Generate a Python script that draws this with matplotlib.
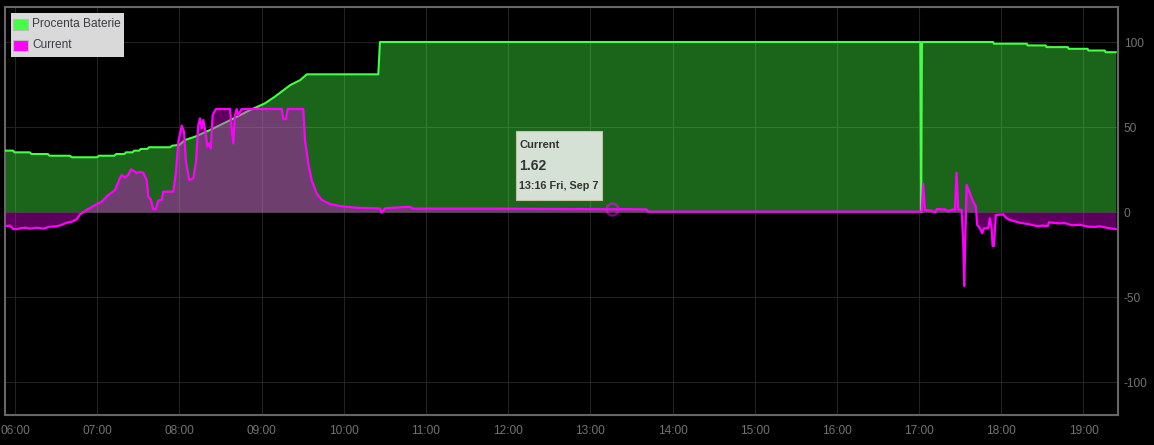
import matplotlib
matplotlib.use("Agg")
from matplotlib import pyplot as plt
from matplotlib.patches import Rectangle
import numpy as np

plt.rcParams['font.family'] = ['Liberation Sans', 'DejaVu Sans']
plt.rcParams['axes.unicode_minus'] = False

# battery percentage (time in decimal hours)
batt_hours = [5.878, 5.976, 5.995, 6.18, 6.20, 6.40, 6.42, 6.67, 6.69, 7.00,
              7.02, 7.21, 7.23, 7.33, 7.35, 7.43, 7.45, 7.51, 7.53, 7.61,
              7.63, 7.89, 7.91, 8.00, 8.07, 8.19, 8.37, 8.62, 8.86, 9.04,
              9.16, 9.35, 9.47, 9.55, 10.42, 10.44, 17.015, 17.025, 17.035, 17.90,
              17.91, 18.31, 18.32, 18.54, 18.55, 18.81, 18.82, 19.05, 19.06, 19.26,
              19.27, 19.392]
batt_values = [36.1, 36.1, 35.1, 35.1, 34.1, 34.1, 33.1, 33.1, 32.2, 32.2,
               33.1, 33.1, 34.1, 34.1, 35.1, 35.1, 36.1, 36.1, 37.1, 37.1,
               38.1, 38.1, 39.0, 39.5, 42.4, 44.3, 48.2, 54.1, 60.0, 63.9,
               67.8, 74.7, 77.6, 81.0, 81.0, 100, 100, 0, 100, 100,
               99, 99, 98, 98, 97, 97, 96, 96, 95, 95,
               94, 94]

# current
cur_hours = [5.878, 5.891, 5.939, 5.979, 6.021, 6.061, 6.122, 6.182, 6.264, 6.344,
             6.426, 6.507, 6.568, 6.629, 6.690, 6.751, 6.791, 6.872, 6.973, 7.055,
             7.135, 7.217, 7.269, 7.298, 7.338, 7.378, 7.411, 7.481, 7.521, 7.561,
             7.602, 7.622, 7.651, 7.682, 7.712, 7.743, 7.785, 7.804, 7.926, 7.959,
             7.987, 8.028, 8.056, 8.080, 8.120, 8.169, 8.202, 8.230, 8.251, 8.271,
             8.291, 8.324, 8.339, 8.364, 8.381, 8.405, 8.445, 8.616, 8.636, 8.656,
             8.676, 8.697, 8.716, 8.758, 9.245, 9.264, 9.297, 9.318, 9.507, 9.528,
             9.568, 9.609, 9.670, 9.731, 9.832, 9.954, 10.157, 10.400, 10.440, 10.461,
             10.501, 10.805, 10.842, 11.170, 11.779, 12.500, 13.117, 13.263, 13.450, 13.685,
             13.701, 17.031, 17.050, 17.071, 17.153, 17.192, 17.220, 17.314, 17.354, 17.415,
             17.436, 17.456, 17.476, 17.517, 17.537, 17.549, 17.561, 17.578, 17.618, 17.658,
             17.691, 17.707, 17.740, 17.768, 17.788, 17.841, 17.861, 17.882, 17.894, 17.910,
             17.934, 18.023, 18.060, 18.105, 18.226, 18.348, 18.430, 18.506, 18.567, 18.579,
             18.713, 18.774, 18.859, 18.956, 19.054, 19.139, 19.200, 19.319, 19.392]
cur_values = [-8.2, -8.2, -8.0, -10.0, -10.2, -9.6, -9.2, -9.8, -9.2, -9.8,
              -8.6, -8.4, -7.6, -6.3, -5.7, -4.3, -1.4, 1.2, 4.1, 6.1,
              10.0, 12.9, 19.2, 21.8, 20.4, 21.8, 25.1, 23.1, 23.5, 23.1,
              18.8, 9.0, 7.5, 1.6, 1.6, 6.7, 7.2, 12.0, 12.0, 23.7,
              41.4, 50.8, 47.3, 29.6, 18.8, 19.8, 29.6, 51.2, 55.1, 49.2,
              54.1, 45.3, 38.4, 40.4, 37.5, 57.1, 60.6, 60.6, 49.2, 40.4,
              57.0, 60.6, 57.0, 60.6, 60.6, 54.7, 54.7, 60.6, 60.6, 42.4,
              28.6, 18.8, 11.0, 7.1, 4.7, 3.5, 2.5, 2.2, 2.0, -0.4,
              2.2, 3.1, 2.0, 2.0, 2.0, 1.8, 1.6, 1.62, 1.7, 1.5,
              0.2, 0.2, 16.5, 1.2, 0.8, -0.2, 1.8, 1.5, 0.6, 1.5,
              1.0, 23.1, 1.5, 1.2, -18.4, -43.5, -18.4, 15.9, 11.0, 6.1,
              3.1, -7.6, -9.6, -12.5, -9.6, -9.6, -3.7, -9.6, -20.0, -20.0,
              -1.8, -1.4, -3.5, -4.7, -6.3, -7.3, -8.2, -8.0, -8.2, -6.1,
              -6.7, -6.5, -7.8, -7.5, -8.6, -8.8, -8.4, -9.6, -10.0]

hour_ticks = list(range(6, 20))
hour_labels = ["%02d:00" % h for h in hour_ticks]
y_ticks = [-100, -50, 0, 50, 100]

tip_hour = 13.263
tip_value = 1.62
tip_series = "Current"
tip_date = "13:16 Fri, Sep 7"

GREEN = "#44ff44"
MAGENTA = "#ff00ff"

W, H = 1154, 445
def fx(px):
    return px / W
def fy(py):
    return 1 - py / H

fig = plt.figure(figsize=(W / 100, H / 100), dpi=100, facecolor="black")
ax = fig.add_axes([fx(5), fy(415), fx(1118) - fx(5), fy(7) - fy(415)])
ax.set_facecolor("black")

ax.fill_between(batt_hours, 0, batt_values, color=GREEN, alpha=0.4, linewidth=0, zorder=2)
ax.plot(batt_hours, batt_values, color=GREEN, linewidth=1.5, zorder=3)
ax.fill_between(cur_hours, 0, cur_values, color=MAGENTA, alpha=0.37, linewidth=0, zorder=4)
ax.plot(cur_hours, cur_values, color=MAGENTA, linewidth=1.6, zorder=5)

# highlighted point
ax.plot([tip_hour], [tip_value], marker="o", markersize=8.5, markerfacecolor="none",
        markeredgecolor=MAGENTA, markeredgewidth=1.9, alpha=0.5, zorder=6)

ax.set_xlim(5.878, 19.42)
ax.set_ylim(-119.4, 120.6)
ax.set_xticks(hour_ticks)
ax.set_xticklabels(hour_labels)
ax.set_yticks(y_ticks)
ax.yaxis.tick_right()
ax.tick_params(axis="both", length=0, colors="#727272", labelsize=8.6)
ax.tick_params(axis="x", pad=7)
ax.tick_params(axis="y", pad=4)
ax.grid(True, color="#222222", linewidth=0.8, zorder=0)
ax.set_axisbelow(True)
for s in ax.spines.values():
    s.set_color("#666666")
    s.set_linewidth(1.5)

# legend box
fig.patches.append(Rectangle((fx(11), fy(57)), fx(124) - fx(11), fy(13) - fy(57),
                             transform=fig.transFigure, facecolor="#d9d9d9",
                             edgecolor="none", zorder=10))
legend_items = [("Procenta Baterie", GREEN, 24), ("Current", MAGENTA, 45)]
for name, col, yc in legend_items:
    fig.patches.append(Rectangle((fx(13), fy(yc + 6)), fx(28) - fx(13), fy(yc - 5) - fy(yc + 6),
                                 transform=fig.transFigure, facecolor=col,
                                 edgecolor="#bbbbbb", linewidth=0.8, zorder=11))
    fig.text(fx(32), fy(yc), name, color="#3c3c46", fontsize=8.6, va="center",
             ha="left", zorder=12)

# tooltip
fig.patches.append(Rectangle((fx(516), fy(200)), fx(602) - fx(516), fy(131) - fy(200),
                             transform=fig.transFigure, facecolor="#d5e1d5",
                             edgecolor="#c8bfa8", linewidth=0.8, zorder=10))
fig.text(fx(519), fy(145), tip_series, color="#333333", fontsize=8, fontweight="bold",
         va="center", ha="left", zorder=12)
fig.text(fx(519), fy(166.5), "%.2f" % tip_value, color="#333333", fontsize=10,
         fontweight="bold", va="center", ha="left", zorder=12)
fig.text(fx(519), fy(186.5), tip_date, color="#333333", fontsize=7.8, fontweight="bold",
         va="center", ha="left", zorder=12)

fig.savefig("out.png", dpi=100, facecolor="black")
